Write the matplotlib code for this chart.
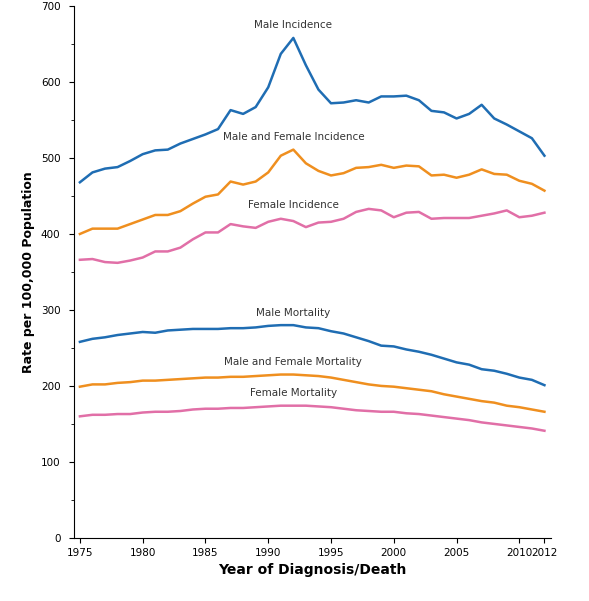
import matplotlib.pyplot as plt
from matplotlib.ticker import MultipleLocator

years = list(range(1975, 2013))

male_inc = [468, 481, 486, 488, 496, 505, 510, 511, 519, 525, 531, 538, 563, 558, 567, 593, 637, 658,
            622, 590, 572, 573, 576, 573, 581, 581, 582, 576, 562, 560, 552, 558, 570, 552, 544, 535, 526, 503]
both_inc = [400, 407, 407, 407, 413, 419, 425, 425, 430, 440, 449, 452, 469, 465, 469, 481, 503, 511,
            493, 483, 477, 480, 487, 488, 491, 487, 490, 489, 477, 478, 474, 478, 485, 479, 478, 470, 466, 457]
female_inc = [366, 367, 363, 362, 365, 369, 377, 377, 382, 393, 402, 402, 413, 410, 408, 416, 420, 417,
              409, 415, 416, 420, 429, 433, 431, 422, 428, 429, 420, 421, 421, 421, 424, 427, 431, 422, 424, 428]
male_mort = [258, 262, 264, 267, 269, 271, 270, 273, 274, 275, 275, 275, 276, 276, 277, 279, 280, 280,
             277, 276, 272, 269, 264, 259, 253, 252, 248, 245, 241, 236, 231, 228, 222, 220, 216, 211, 208, 201]
both_mort = [199, 202, 202, 204, 205, 207, 207, 208, 209, 210, 211, 211, 212, 212, 213, 214, 215, 215,
             214, 213, 211, 208, 205, 202, 200, 199, 197, 195, 193, 189, 186, 183, 180, 178, 174, 172, 169, 166]
female_mort = [160, 162, 162, 163, 163, 165, 166, 166, 167, 169, 170, 170, 171, 171, 172, 173, 174, 174,
               174, 173, 172, 170, 168, 167, 166, 166, 164, 163, 161, 159, 157, 155, 152, 150, 148, 146, 144, 141]

BLUE = "#1f6db3"
ORANGE = "#ef8f1f"
PINK = "#e16fa7"

series = [
    (male_inc, BLUE, "Male Incidence", 1992, 668),
    (both_inc, ORANGE, "Male and Female Incidence", 1992, 521),
    (female_inc, PINK, "Female Incidence", 1992, 431),
    (male_mort, BLUE, "Male Mortality", 1992, 290),
    (both_mort, ORANGE, "Male and Female Mortality", 1992, 225),
    (female_mort, PINK, "Female Mortality", 1992, 184),
]

fig = plt.figure(figsize=(5.89, 6.01), dpi=100)
ax = fig.add_axes([0.125, 0.105, 0.81, 0.885])
for values, color, label, lx, ly in series:
    ax.plot(years, values, color=color, linewidth=1.8)
    ax.text(lx, ly, label, ha="center", va="bottom", fontsize=7.5, color="#333333")

ax.set_xlim(1974.5, 2012.5)
ax.set_ylim(0, 700)
ax.set_xticks([1975, 1980, 1985, 1990, 1995, 2000, 2005, 2010, 2012])
ax.set_xticklabels(["1975", "1980", "1985", "1990", "1995", "2000", "2005", "2010", "2012"], fontsize=7.5)
ax.yaxis.set_major_locator(MultipleLocator(100))
ax.yaxis.set_minor_locator(MultipleLocator(50))
ax.tick_params(axis="y", labelsize=7.5, pad=6)
ax.spines["top"].set_visible(False)
ax.spines["right"].set_visible(False)
ax.set_xlabel("Year of Diagnosis/Death", fontsize=10, fontweight="bold")
ax.set_ylabel("Rate per 100,000 Population", fontsize=9, fontweight="bold")
fig.savefig("out.png")
